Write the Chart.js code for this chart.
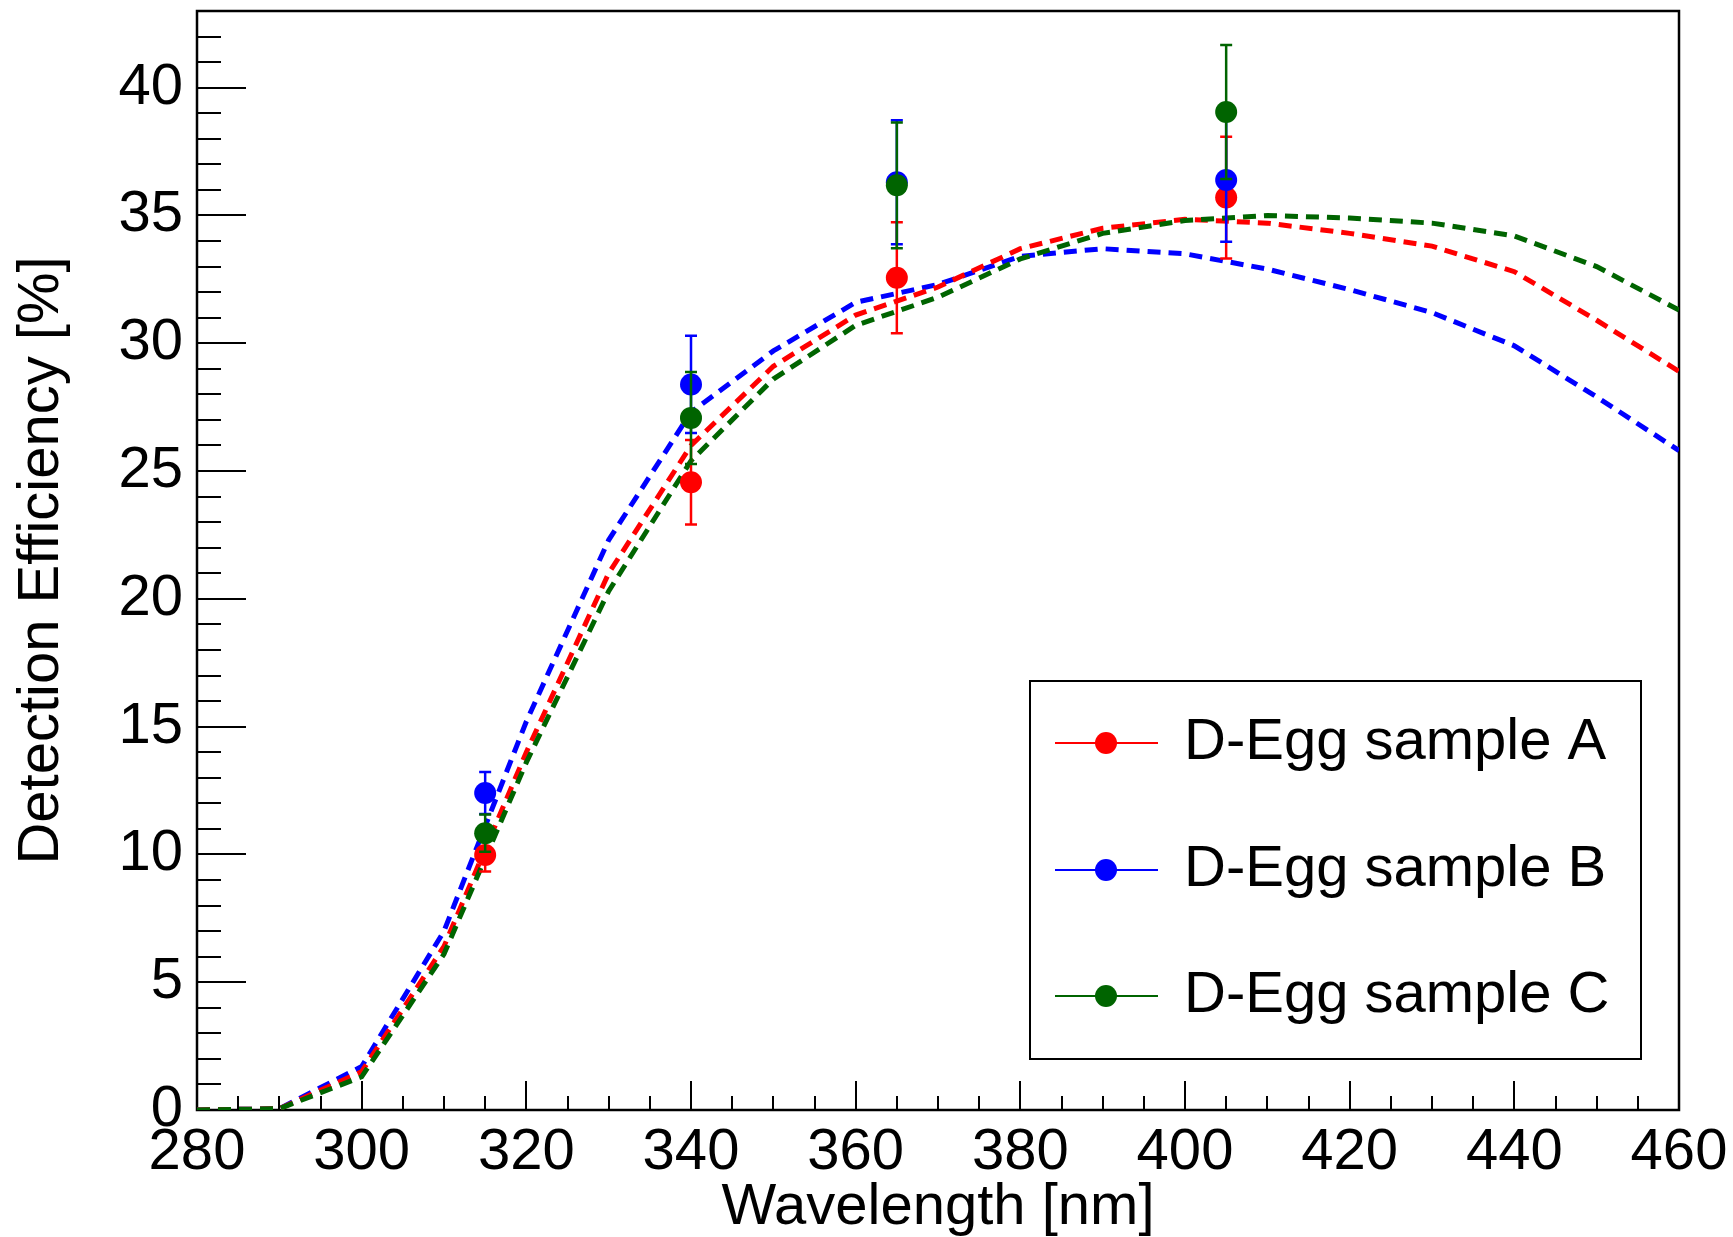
<!DOCTYPE html>
<html>
<head>
<meta charset="utf-8">
<script src="https://cdn.jsdelivr.net/npm/chart.js@4.4.1/dist/chart.umd.min.js"></script>
<style>
  html, body { margin: 0; padding: 0; background: #fff; }
  #wrap { width: 1733px; height: 1237px; }
</style>
</head>
<body>
<div id="wrap"><canvas id="myChart" width="1733" height="1237"></canvas></div>
<script>
// simulated efficiency curves, 10 nm steps
const wavelengths = [280, 290, 300, 310, 320, 330, 340, 350, 360, 370, 380, 390, 400, 410, 420, 430, 440, 450, 460]
const curveA = [0, 0.05, 1.5, 6.4, 14.0, 21.0, 26.0, 29.1, 31.1, 32.2, 33.7, 34.5, 34.85, 34.7, 34.3, 33.8, 32.8, 30.9, 28.9]
const curveB = [0, 0.05, 1.7, 7.0, 15.2, 22.3, 27.3, 29.7, 31.6, 32.3, 33.4, 33.7, 33.5, 32.9, 32.1, 31.2, 29.9, 27.9, 25.8]
const curveC = [0, 0.05, 1.3, 6.1, 13.6, 20.3, 25.4, 28.6, 30.7, 31.8, 33.3, 34.3, 34.8, 35.0, 34.9, 34.7, 34.2, 33.0, 31.3]

// measured points (LED wavelengths)
const measWl = [315, 340, 365, 405]
const effA = [9.98, 24.56, 32.56, 35.70]
const errA = [0.65, 1.65, 2.17, 2.38]
const effB = [12.40, 28.39, 36.30, 36.39]
const errB = [0.82, 1.90, 2.43, 2.42]
const effC = [10.83, 27.08, 36.18, 39.05]
const errC = [0.73, 1.80, 2.46, 2.62]

const labels = ['D-Egg sample A', 'D-Egg sample B', 'D-Egg sample C']
const colors = ['#ff0000', '#0000ff', '#006400']

const xTicks = { min: 280, max: 460, major: 20, minor: 5 }
const yTicks = { min: 0, max: 43, major: 5, minor: 1 }

const FONT = "'Liberation Sans', Arial, Helvetica, sans-serif"

function toXY(xs, ys) {
  return xs.map((x, i) => ({ x: x, y: ys[i] }))
}

function curveSet(ys, color, order) {
  return {
    type: 'line',
    data: toXY(wavelengths, ys),
    borderColor: color,
    borderWidth: 5,
    borderDash: [13, 8],
    pointRadius: 0,
    tension: 0,
    fill: false,
    order: order
  }
}

function pointSet(ys, errs, color, label, order) {
  return {
    type: 'scatter',
    label: label,
    legendRow: order,
    data: toXY(measWl, ys),
    errors: errs,
    backgroundColor: color,
    borderColor: color,
    pointRadius: 11,
    pointBorderWidth: 0,
    showLine: false,
    order: order
  }
}

// frame + inward ticks, drawn under the data
const frameTicks = {
  id: 'frameTicks',
  beforeDatasetsDraw(chart) {
    const { ctx, chartArea: a, scales: { x, y } } = chart
    ctx.save()
    ctx.strokeStyle = '#000'
    ctx.lineWidth = 2
    ctx.beginPath()
    for (let v = xTicks.min; v <= xTicks.max; v += xTicks.minor) {
      const px = Math.round(x.getPixelForValue(v))
      const len = v % xTicks.major === 0 ? 29 : 14
      ctx.moveTo(px, a.bottom)
      ctx.lineTo(px, a.bottom - len)
    }
    for (let v = yTicks.min; v <= yTicks.max; v += yTicks.minor) {
      const py = Math.round(y.getPixelForValue(v))
      const len = v % yTicks.major === 0 ? 49 : 24
      ctx.moveTo(a.left, py)
      ctx.lineTo(a.left + len, py)
    }
    ctx.stroke()
    ctx.lineWidth = 2.5
    ctx.strokeRect(a.left, a.top, a.right - a.left, a.bottom - a.top)
    ctx.restore()
  }
}

// vertical error bars, drawn just before each point set
const errorBars = {
  id: 'errorBars',
  beforeDatasetDraw(chart, args) {
    const ds = chart.data.datasets[args.index]
    if (!ds.errors) return
    const { ctx, scales: { y } } = chart
    ctx.save()
    ctx.strokeStyle = ds.borderColor
    ctx.lineWidth = 2.5
    ctx.beginPath()
    args.meta.data.forEach((pt, i) => {
      const v = ds.data[i].y
      const e = ds.errors[i]
      const top = y.getPixelForValue(v + e)
      const bot = y.getPixelForValue(v - e)
      ctx.moveTo(pt.x, top)
      ctx.lineTo(pt.x, bot)
      ctx.moveTo(pt.x - 6, top)
      ctx.lineTo(pt.x + 6, top)
      ctx.moveTo(pt.x - 6, bot)
      ctx.lineTo(pt.x + 6, bot)
    })
    ctx.stroke()
    ctx.restore()
  }
}

// boxed legend inside the plot
const boxLegend = {
  id: 'boxLegend',
  afterDraw(chart) {
    const ctx = chart.ctx
    const box = { x: 1030, y: 681, w: 611, h: 378 }
    const rows = [743, 870, 996]
    ctx.save()
    ctx.fillStyle = '#fff'
    ctx.fillRect(box.x, box.y, box.w, box.h)
    ctx.strokeStyle = '#000'
    ctx.lineWidth = 2
    ctx.strokeRect(box.x, box.y, box.w, box.h)
    const sets = chart.data.datasets.filter(d => d.label)
    sets.sort((a, b) => b.legendRow - a.legendRow)
    sets.forEach((d, i) => {
      const ry = rows[i]
      ctx.strokeStyle = d.borderColor
      ctx.lineWidth = 2
      ctx.beginPath()
      ctx.moveTo(1055, ry)
      ctx.lineTo(1158, ry)
      ctx.stroke()
      ctx.fillStyle = d.backgroundColor
      ctx.beginPath()
      ctx.arc(1106, ry, 11, 0, Math.PI * 2)
      ctx.fill()
      ctx.fillStyle = '#000'
      ctx.font = '58px ' + FONT
      ctx.textBaseline = 'middle'
      ctx.textAlign = 'left'
      ctx.fillText(d.label, 1184, ry)
    })
    ctx.restore()
  }
}

const ctx = document.getElementById('myChart')
new Chart(ctx, {
  type: 'scatter',
  data: {
    datasets: [
      pointSet(effC, errC, colors[2], labels[2], 1),
      pointSet(effB, errB, colors[1], labels[1], 2),
      pointSet(effA, errA, colors[0], labels[0], 3),
      curveSet(curveC, colors[2], 4),
      curveSet(curveA, colors[0], 5),
      curveSet(curveB, colors[1], 6)
    ]
  },
  options: {
    responsive: false,
    animation: false,
    layout: { padding: { left: 0, right: 54, top: 11, bottom: 0 } },
    plugins: {
      legend: { display: false },
      tooltip: { enabled: false }
    },
    scales: {
      x: {
        type: 'linear',
        min: xTicks.min,
        max: xTicks.max,
        grid: { display: false, drawTicks: false },
        border: { display: false },
        ticks: {
          stepSize: xTicks.major,
          includeBounds: false,
          color: '#000',
          padding: 8,
          maxRotation: 0,
          font: { family: FONT, size: 58 }
        },
        title: {
          display: true,
          text: 'Wavelength [nm]',
          color: '#000',
          font: { family: FONT, size: 58, lineHeight: 1.0 },
          padding: { top: 0, bottom: 0 }
        },
        afterFit(scale) {
          scale.height = 127
          scale.paddingLeft = 0
          scale.paddingRight = 0
        }
      },
      y: {
        type: 'linear',
        min: yTicks.min,
        max: yTicks.max,
        grid: { display: false, drawTicks: false },
        border: { display: false },
        ticks: {
          stepSize: yTicks.major,
          includeBounds: false,
          color: '#000',
          padding: 14,
          font: { family: FONT, size: 58 }
        },
        title: {
          display: true,
          text: 'Detection Efficiency [%]',
          color: '#000',
          font: { family: FONT, size: 58, lineHeight: 1.0 },
          padding: { top: 13, bottom: 0 }
        },
        afterFit(scale) {
          scale.width = 197
          scale.paddingTop = 0
          scale.paddingBottom = 0
        }
      }
    }
  },
  plugins: [frameTicks, errorBars, boxLegend]
})
</script>
</body>
</html>
